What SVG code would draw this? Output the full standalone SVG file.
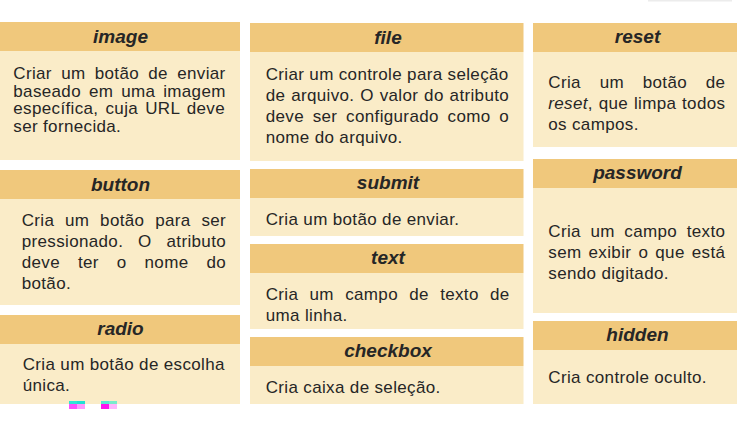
<svg xmlns="http://www.w3.org/2000/svg" width="737" height="430" viewBox="0 0 737 430">
<style>
.hd{fill:#F0C87C}
.bd{fill:#FAECC8}
.t{font-family:"Liberation Sans",Arial,sans-serif;font-size:19px;font-weight:bold;font-style:italic;fill:#262626;text-anchor:middle}
.b{font-family:"Liberation Sans",Arial,sans-serif;font-size:17px;letter-spacing:0.35px;fill:#262626}
.i{font-style:italic}
</style>
<rect width="737" height="430" fill="#ffffff"/>
<rect x="648" y="0" width="84" height="1.5" fill="#ececec"/>
<g id="connectors"/>

<g id="image">
<rect class="hd" x="0" y="22" width="240" height="29"/>
<rect class="bd" x="0" y="51" width="240" height="109"/>
<text class="t" x="120.5" y="42.5">image</text>
<text class="b" x="13.3" y="79" word-spacing="4.2">Criar um botão de enviar</text>
<text class="b" x="13.3" y="96.7" word-spacing="2.85">baseado em uma imagem</text>
<text class="b" x="13.3" y="114.4" word-spacing="2.04">específica, cuja URL deve</text>
<text class="b" x="13.3" y="132">ser fornecida.</text>
</g>

<g id="button">
<rect class="hd" x="0" y="170" width="240" height="29"/>
<rect class="bd" x="0" y="199" width="240" height="106"/>
<text class="t" x="120.5" y="190.7">button</text>
<text class="b" x="21.7" y="225.7" word-spacing="5.7">Cria um botão para ser</text>
<text class="b" x="21.7" y="246.8" word-spacing="9.79">pressionado. O atributo</text>
<text class="b" x="21.7" y="268" word-spacing="12.9">deve ter o nome do</text>
<text class="b" x="21.7" y="289.2">botão.</text>
</g>

<g id="radio">
<rect class="hd" x="0" y="315" width="240" height="29"/>
<rect class="bd" x="0" y="344" width="240" height="60"/>
<text class="t" x="120.5" y="334.7">radio</text>
<text class="b" x="22.7" y="370">Cria um botão de escolha</text>
<text class="b" x="22.7" y="391">única.</text>
</g>

<g id="file">
<rect class="hd" x="250" y="23" width="273.5" height="29"/>
<rect class="bd" x="250" y="52" width="273.5" height="109"/>
<text class="t" x="388" y="43.5">file</text>
<text class="b" x="265.7" y="79.5">Criar um controle para seleção</text>
<text class="b" x="265.7" y="100.8" word-spacing="0.77">de arquivo. O valor do atributo</text>
<text class="b" x="265.7" y="122" word-spacing="3.67">deve ser configurado como o</text>
<text class="b" x="265.7" y="143.3">nome do arquivo.</text>
</g>

<g id="submit">
<rect class="hd" x="250" y="169" width="273.5" height="29"/>
<rect class="bd" x="250" y="198" width="273.5" height="38"/>
<text class="t" x="388" y="189">submit</text>
<text class="b" x="265.7" y="225">Cria um botão de enviar.</text>
</g>

<g id="text">
<rect class="hd" x="250" y="244" width="273.5" height="29"/>
<rect class="bd" x="250" y="273" width="273.5" height="56"/>
<text class="t" x="388" y="264.3">text</text>
<text class="b" x="265.7" y="300" word-spacing="6.22">Cria um campo de texto de</text>
<text class="b" x="265.7" y="320.8">uma linha.</text>
</g>

<g id="checkbox">
<rect class="hd" x="250" y="337" width="273.5" height="29"/>
<rect class="bd" x="250" y="366" width="273.5" height="38"/>
<text class="t" x="388" y="356.7">checkbox</text>
<text class="b" x="265.7" y="392.7">Cria caixa de seleção.</text>
</g>

<g id="reset">
<rect class="hd" x="533" y="23" width="204" height="29"/>
<rect class="bd" x="533" y="52" width="204" height="95"/>
<text class="t" x="637.5" y="43.3">reset</text>
<text class="b" x="548.3" y="88.3" word-spacing="13.69">Cria um botão de</text>
<text class="b" x="548.3" y="109.3" word-spacing="0.7"><tspan class="i">reset</tspan>, que limpa todos</text>
<text class="b" x="548.3" y="130.3">os campos.</text>
</g>

<g id="password">
<rect class="hd" x="533" y="159" width="204" height="29"/>
<rect class="bd" x="533" y="188" width="204" height="125"/>
<text class="t" x="637.5" y="179">password</text>
<text class="b" x="548.3" y="237.3" word-spacing="4.52">Cria um campo texto</text>
<text class="b" x="548.3" y="258.3" word-spacing="2.03">sem exibir o que está</text>
<text class="b" x="548.3" y="279.3">sendo digitado.</text>
</g>

<g id="hidden">
<rect class="hd" x="533" y="321" width="204" height="29"/>
<rect class="bd" x="533" y="350" width="204" height="54"/>
<text class="t" x="637.5" y="340.7">hidden</text>
<text class="b" x="548.3" y="383.3">Cria controle oculto.</text>
</g>

<g id="artifacts">
<rect x="69" y="401" width="8" height="3" fill="#30e6d6"/>
<rect x="77" y="401" width="8" height="3" fill="#22e0d4"/>
<rect x="69" y="404" width="8" height="5" fill="#ff50ff"/>
<rect x="77" y="404" width="8" height="5" fill="#ff9aff"/>
<rect x="101" y="401" width="8" height="3" fill="#58ead0"/>
<rect x="109" y="401" width="8" height="3" fill="#78eccc"/>
<rect x="101" y="404" width="8" height="5" fill="#ff14ee"/>
<rect x="109" y="404" width="8" height="5" fill="#ffb6ff"/>
</g>
</svg>
